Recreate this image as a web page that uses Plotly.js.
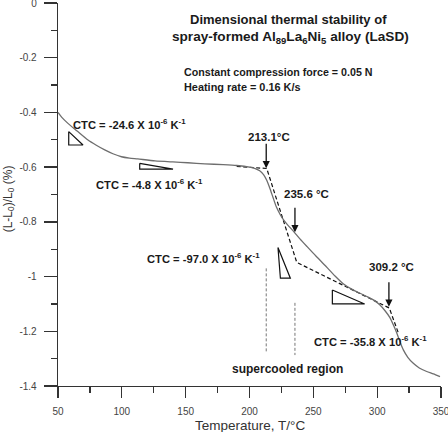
<!DOCTYPE html>
<html>
<head>
<meta charset="utf-8">
<script src="https://cdn.plot.ly/plotly-3.0.1.min.js"></script>
<style>
  html, body { margin: 0; padding: 0; background: #fff; }
  #chart { width: 448px; height: 432px; }
</style>
</head>
<body>
<div id="chart"></div>
<script>
// Dilatometer trace: relative length change vs temperature
const tempC = [50, 53, 57.8, 65, 73.5, 80, 86.6, 93, 99.7, 106, 112.5, 126, 140, 151.7, 165, 179.4, 190, 200, 205, 208, 211, 213.5, 216, 218.5, 221, 224, 227, 230, 234, 239.5, 245, 252, 260, 267, 273.4, 280, 286, 292, 297, 302, 306, 310, 313, 315.5, 318, 320.5, 324, 328.3, 333, 338.8, 344, 349.2];
const dLL0 = [-0.400, -0.418, -0.440, -0.468, -0.501, -0.520, -0.537, -0.551, -0.562, -0.567, -0.570, -0.577, -0.581, -0.584, -0.588, -0.591, -0.594, -0.600, -0.606, -0.613, -0.627, -0.648, -0.678, -0.712, -0.745, -0.773, -0.795, -0.812, -0.832, -0.862, -0.890, -0.925, -0.963, -0.998, -1.026, -1.046, -1.060, -1.073, -1.085, -1.103, -1.124, -1.150, -1.180, -1.208, -1.240, -1.268, -1.295, -1.317, -1.334, -1.347, -1.356, -1.366];

// Tangent construction lines (piecewise linear fits)
const tangentT = [190, 213.5, 237, 309.5, 316.5];
const tangentV = [-0.597, -0.605, -0.948, -1.115, -1.205];

// Boundaries of the supercooled liquid region
const scT1 = [213.1, 213.1];
const scV1 = [-0.970, -1.279];
const scT2 = [235.6, 235.6];
const scV2 = [-1.096, -1.287];

// Slope triangles for each CTC value
const tri1T = [58.4, 58.4, 69.6, 58.4];
const tri1V = [-0.470, -0.519, -0.519, -0.470];
const tri2T = [114, 114, 140.1, 114];
const tri2V = [-0.586, -0.607, -0.607, -0.586];
const tri3T = [222.3, 224.2, 232, 222.3];
const tri3V = [-0.894, -1.006, -1.006, -0.894];
const tri4T = [264.9, 264.9, 290.2, 264.9];
const tri4V = [-1.049, -1.100, -1.100, -1.049];

// Characteristic temperatures (arrows)
const charTemps = [213.1, 235.6, 309.2];
const charTipV = [-0.604, -0.838, -1.110];
const charLabels = ['213.1°C', '235.6 °C', '309.2 °C'];
const charLabelT = [215, 244.8, 311.2];
const charLabelV = [-0.490, -0.698, -0.965];

// CTC labels
const ctcLabels = [
  'CTC = -24.6 X 10<sup>-6</sup> K<sup>-1</sup>',
  'CTC = -4.8 X 10<sup>-6</sup> K<sup>-1</sup>',
  'CTC = -97.0 X 10<sup>-6</sup> K<sup>-1</sup>',
  'CTC = -35.8 X 10<sup>-6</sup> K<sup>-1</sup>'
];
const ctcT = [60.5, 78.5, 118.2, 249];
const ctcV = [-0.442, -0.662, -0.932, -1.235];

// Axis ticks
const xMajor = [50, 100, 150, 200, 250, 300, 350];
const yMajor = [0, -0.2, -0.4, -0.6, -0.8, -1, -1.2, -1.4];
const yMajorText = ['0', '-0.2', '-0.4', '-0.6', '-0.8', '-1', '-1.2', '-1.4'];

const FONT = 'Liberation Sans, Arial, Helvetica, sans-serif';
const TXT = '#1a1a1a';
const AX = '#333';

const triStyle = {mode: 'lines', line: {color: '#111', width: 1.2}, hoverinfo: 'skip', showlegend: false};

const traces = [
  {x: scT1, y: scV1, mode: 'lines', line: {color: '#777', width: 1, dash: '3px,2px'}, showlegend: false},
  {x: scT2, y: scV2, mode: 'lines', line: {color: '#777', width: 1, dash: '3px,2px'}, showlegend: false},
  {x: tangentT, y: tangentV, mode: 'lines', line: {color: '#111', width: 1.2, dash: '4px,2.5px'}, showlegend: false},
  {x: tempC, y: dLL0, mode: 'lines', line: {color: '#6e6e6e', width: 1.3, shape: 'spline', smoothing: 0.6}, showlegend: false},
  Object.assign({x: tri1T, y: tri1V}, triStyle),
  Object.assign({x: tri2T, y: tri2V}, triStyle),
  Object.assign({x: tri3T, y: tri3V}, triStyle),
  Object.assign({x: tri4T, y: tri4V}, triStyle)
];

const annotations = [];
charTemps.forEach((t, i) => {
  annotations.push({x: t, y: charTipV[i], xref: 'x', yref: 'y', text: '', showarrow: true,
    arrowhead: 2, arrowsize: 1.1, arrowwidth: 1.3, arrowcolor: '#111', ax: 0, ay: -26, standoff: 0});
  annotations.push({x: charLabelT[i], y: charLabelV[i], xref: 'x', yref: 'y', text: '<b>' + charLabels[i] + '</b>',
    showarrow: false, xanchor: 'center', yanchor: 'middle', font: {family: FONT, size: 11.5, color: TXT}});
});
ctcLabels.forEach((s, i) => {
  annotations.push({x: ctcT[i], y: ctcV[i], xref: 'x', yref: 'y', text: '<b>' + s + '</b>', showarrow: false,
    xanchor: 'left', yanchor: 'middle', font: {family: FONT, size: 11.2, color: TXT}});
});
annotations.push({x: 229.9, y: -1.338, xref: 'x', yref: 'y', text: '<b>supercooled region</b>', showarrow: false,
  xanchor: 'center', yanchor: 'middle', font: {family: FONT, size: 12, color: TXT}});

// Heading and test conditions
annotations.push({x: 0.603, y: 0.956, xref: 'paper', yref: 'paper', text: '<b>Dimensional thermal stability of</b>',
  showarrow: false, xanchor: 'center', yanchor: 'middle', font: {family: FONT, size: 13, color: TXT}});
annotations.push({x: 0.606, y: 0.911, xref: 'paper', yref: 'paper',
  text: '<b>spray-formed Al<sub>89</sub>La<sub>6</sub>Ni<sub>5</sub> alloy (LaSD)</b>',
  showarrow: false, xanchor: 'center', yanchor: 'middle', font: {family: FONT, size: 13.6, color: TXT}});
annotations.push({x: 0.324, y: 0.820, xref: 'paper', yref: 'paper', text: '<b>Constant compression force = 0.05 N</b>',
  showarrow: false, xanchor: 'left', yanchor: 'middle', font: {family: FONT, size: 10.7, color: TXT}});
annotations.push({x: 0.324, y: 0.781, xref: 'paper', yref: 'paper', text: '<b>Heating rate = 0.16 K/s</b>',
  showarrow: false, xanchor: 'left', yanchor: 'middle', font: {family: FONT, size: 10.9, color: TXT}});

// Axis titles drawn as free text for exact placement
annotations.push({x: -0.128, y: 0.49, xref: 'paper', yref: 'paper', text: '(L-L<sub>0</sub>)/L<sub>0</sub> (%)',
  textangle: -90, showarrow: false, xanchor: 'center', yanchor: 'middle', font: {family: FONT, size: 12, color: '#333'}});
annotations.push({x: 0.5, y: -0.103, xref: 'paper', yref: 'paper', text: 'Temperature, T/°C',
  showarrow: false, xanchor: 'center', yanchor: 'middle', font: {family: FONT, size: 13.5, color: '#333'}});

const layout = {
  width: 448, height: 432,
  margin: {l: 58, r: 7, t: 3, b: 46},
  paper_bgcolor: '#fff', plot_bgcolor: '#fff',
  showlegend: false,
  font: {family: FONT, color: '#444'},
  xaxis: {
    range: [50, 350], tickmode: 'array', tickvals: xMajor,
    showgrid: false, zeroline: false,
    showline: true, linecolor: AX, linewidth: 1.3,
    ticks: 'outside', ticklen: 11, tickwidth: 1.3, tickcolor: AX,
    minor: {tickmode: 'linear', tick0: 50, dtick: 25, ticks: 'outside', ticklen: 6, tickwidth: 1.2, tickcolor: AX, showgrid: false},
    tickfont: {family: FONT, size: 10, color: '#444'},
    ticklabeloverflow: 'allow', ticklabelstandoff: 5,
    automargin: false
  },
  yaxis: {
    range: [-1.4, 0], tickmode: 'array', tickvals: yMajor, ticktext: yMajorText,
    showgrid: false, zeroline: false,
    showline: true, linecolor: AX, linewidth: 1.3,
    ticks: 'outside', ticklen: 13, tickwidth: 1.3, tickcolor: AX,
    minor: {tickmode: 'linear', tick0: 0, dtick: 0.1, ticks: 'outside', ticklen: 6, tickwidth: 1.2, tickcolor: AX, showgrid: false},
    tickfont: {family: FONT, size: 10, color: '#444'},
    ticklabeloverflow: 'allow', ticklabelstandoff: 5,
    automargin: false
  },
  annotations: annotations
};

Plotly.newPlot('chart', traces, layout, {staticPlot: true, displayModeBar: false});
</script>
</body>
</html>
